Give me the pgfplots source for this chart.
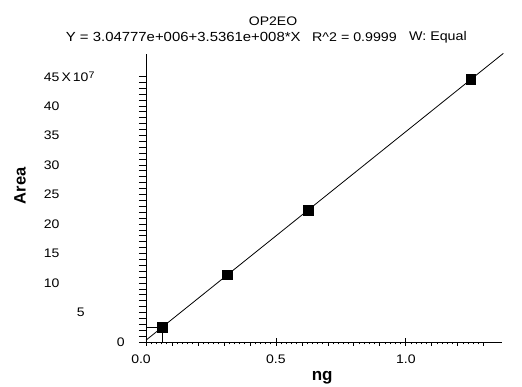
\documentclass[border=0pt]{standalone}
\usepackage{fontspec}
\setmainfont{Liberation Sans}[FakeStretch=1.13]
\newfontfamily\labfont{Liberation Sans}
\usepackage{pgfplots}
\pgfplotsset{compat=1.18}
\begin{document}
\begin{tikzpicture}
\path[use as bounding box] (-146pt,-45pt) rectangle (376pt,342pt);
% x axis only
\begin{axis}[
  scale only axis, width=356pt, height=288pt,
  anchor=south west, at={(0pt,0pt)},
  xmin=0, xmax=1.37, ymin=0, ymax=48.8,
  axis x line=bottom, axis y line=none,
  axis line style={-, line width=0.8pt},
  tick align=outside,
  major tick length=4pt, minor tick length=2.5pt,
  tick style={line width=0.8pt, black},
  xtick={0,0.1,0.2,0.3,0.4,0.5,0.6,0.7,0.8,0.9,1.0,1.1,1.2,1.3},
  xticklabels={0.0\hspace*{10pt},,,,,0.5,,,,,1.0,,,},
  minor x tick num=4,
  extra x ticks={0.5,1.0},
  extra x tick labels={},
  extra x tick style={tick align=center, major tick length=8pt},
  xticklabel style={font=\fontsize{12.4}{14}\selectfont, inner sep=0pt, anchor=north, yshift=-9pt},
]
\end{axis}
% y axis and data
\begin{axis}[
  scale only axis, width=356pt, height=288pt,
  anchor=south west, at={(0pt,0pt)},
  xmin=0, xmax=1.37, ymin=0, ymax=48.8,
  axis y line=left, axis x line=none,
  axis line style={-, line width=0.8pt},
  clip=false,
  tick align=outside,
  major tick length=7pt, minor tick length=7pt,
  tick style={line width=0.7pt, black},
  ytick={0,5,10,15,20,25,30,35,40,45},
  minor y tick num=4,
  yticklabels={\hspace*{73pt}0,\hspace*{33pt}5,10,15,20,25,30,35,40,45\,X\,10\raisebox{0.45ex}{\fontsize{9.5}{10}\selectfont 7}},
  yticklabel style={font=\fontsize{12.4}{14}\selectfont, inner sep=0pt, anchor=west, xshift=-95.3pt},
]
\addplot[black, line width=0.8pt] coordinates {(0,0.305) (1.375,48.9)};
\addplot[black, line width=0.6pt] coordinates {(0,2.55) (0.0625,2.55) (0.0625,0)};
\addplot[only marks, mark=square*, mark size=4.8pt, black] coordinates {
 (0.0625,2.55) (0.3125,11.4) (0.625,22.3) (1.25,44.5)};
\node[font=\fontsize{12.4}{14}\selectfont] at (axis description cs:0.357,1.115) {OP2EO};
\node[font=\fontsize{13.2}{14}\selectfont, anchor=west, inner sep=0pt] at (axis description cs:-0.2256,1.059)
  {Y = 3.04777e+006+3.5361e+008*X};
\node[font=\fontsize{12.6}{14}\selectfont, anchor=west, inner sep=0pt] at (axis description cs:0.4663,1.059)
  {R\textasciicircum 2 = 0.9999};
\node[font=\fontsize{12.6}{14}\selectfont, anchor=west, inner sep=0pt] at (axis description cs:0.7388,1.059)
  {W: Equal};
\node[font=\labfont\bfseries\fontsize{16.5}{18}\selectfont, rotate=90] at (axis description cs:-0.354,0.5417) {Area};
\node[font=\labfont\bfseries\fontsize{17}{19}\selectfont] at (axis description cs:0.495,-0.123) {ng};
\end{axis}
\end{tikzpicture}
\end{document}
